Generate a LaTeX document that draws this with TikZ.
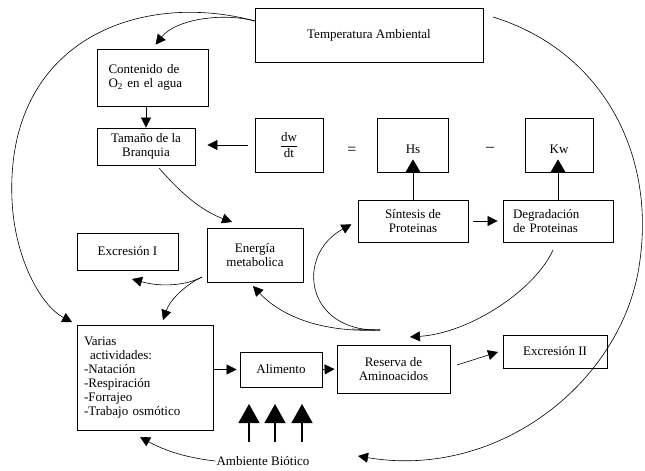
\documentclass[tikz,border=0pt]{standalone}
\usepackage{fontspec}
\setmainfont{Liberation Serif}
\usetikzlibrary{arrows.meta}
\begin{document}
\begin{tikzpicture}[x=1pt,y=-1pt,
  font=\fontsize{13}{14}\selectfont,
  box/.style={draw, line width=0.8pt, inner sep=0pt, align=center},
  arr/.style={-{Triangle[length=10pt,width=10pt]}, line width=0.6pt},
  midarr/.style={-{Triangle[length=13pt,width=15pt]}, line width=0.6pt},
  bigarr/.style={-{Triangle[length=19pt,width=21pt]}, line width=1.3pt}]
\useasboundingbox[fill=white] (0,0) rectangle (645,471);

% boxes
\node[box, minimum width=228pt, minimum height=54pt] (temp) at (369,35) {Temperatura Ambiental};
\node[box, minimum width=111pt, minimum height=57pt, text width=88pt, align=left] (cont) at (152.5,77.5) {Contenido de\\O\textsubscript{2} en el agua};
\node[box, minimum width=98pt, minimum height=37pt] (tam) at (146,146.5) {Tamaño de la\\Branquia};
\node[box, minimum width=68pt, minimum height=54pt] (dwdt) at (289,145) {$\displaystyle\frac{\mbox{dw}}{\mbox{dt}}$};
\node[font=\fontsize{16}{16}\selectfont] (eq) at (352,151) {=};
\node[font=\fontsize{16}{16}\selectfont] (minus) at (490,149) {–};
\node[box, minimum width=71pt, minimum height=54pt] (hs) at (413,145) {};
\node (hst) at (413,149) {Hs};
\node[box, minimum width=68pt, minimum height=54pt] (kw) at (559,145) {};
\node (kwt) at (559,149) {Kw};
\node[box, minimum width=110pt, minimum height=42pt] (sint) at (413,221) {Síntesis de\\Proteinas};
\node[box, minimum width=110pt, minimum height=42pt, text width=90pt, align=left] (degr) at (558,221) {Degradación\\de Proteinas};
\node[box, minimum width=96pt, minimum height=54pt] (energ) at (255,255) {Energía\\metabolica};
\node[box, minimum width=101pt, minimum height=37pt] (exc1) at (127.5,251.5) {Excresión I};
\node[box, minimum width=136pt, minimum height=105pt, text width=122pt, align=left] (var) at (145,377.5) {Varias\\\hspace{6pt}actividades:\\-Natación\\-Respiración\\-Forrajeo\\-Trabajo osmótico};
\node[box, minimum width=82pt, minimum height=35pt] (alim) at (281,369.5) {Alimento};
\node[box, minimum width=113pt, minimum height=48pt] (res) at (393.5,369) {Reserva de\\Aminoacidos};
\node[box, minimum width=104pt, minimum height=33pt] (exc2) at (555,351.5) {Excresión II};
\node[inner sep=1pt] (amb) at (263,461) {Ambiente Biótico};

% free ends
\coordinate (tempL) at (255,21);
\coordinate (tempR) at (493,17);
\coordinate (ambR) at (358,456);
\coordinate (tamS) at (159,168);
\coordinate (energT) at (232,222);
\coordinate (degrS) at (553,250);
\coordinate (resT) at (410,337);
\coordinate (loop) at (380,330);
\coordinate (energB) at (253,286);
\coordinate (eBL) at (202,277);
\coordinate (exc1B) at (132,279);
\coordinate (varT) at (163,320);
\coordinate (resE) at (457,365);
\coordinate (exc2W) at (498,352);
\coordinate (varB) at (140,437);

% connectors
\draw[arr, shorten >=5pt] (tempL) .. controls (220,12) and (175,20) .. (cont.north);
\draw[arr, shorten >=5pt] (tempL) .. controls (140,-10) and (5,40) .. (12,200)
      .. controls (14.5,257) and (40,305) .. (var.north west);
\draw[arr] (tempR) .. controls (600,50) and (655,150) .. (640,260)
      .. controls (625,380) and (500,480) .. (ambR);
\draw[arr] (cont.south -| tam.north) -- (tam.north);
\draw[arr, shorten <=7pt, shorten >=12pt] (dwdt.west) -- (dwdt.west -| tam.east);
\draw[arr] (tamS) .. controls (185,198) and (205,212) .. (energT);
\draw[midarr] (sint.north) -- ([yshift=13pt]hs.south);
\draw[midarr] (degr.north) -- ([yshift=13pt]degr.north |- kw.south);
\draw[arr, shorten <=5pt, shorten >=5pt] (sint.east) -- (degr.west);
\draw[arr] (degrS) .. controls (535,290) and (470,333) .. (resT);
\draw[arr, shorten >=7pt] (loop) .. controls (305,332) and (295,255) .. (sint.west);
\draw[line width=0.6pt] (loop) -- (352,329);
\draw[arr] (loop) .. controls (320,333) and (280,315) .. (energB);
\draw[arr] (eBL) .. controls (185,286) and (160,287) .. (exc1B);
\draw[arr] (eBL) .. controls (185,285) and (170,300) .. (varT);
\draw[arr, shorten >=3pt] (var.east |- alim.west) -- (alim.west);
\draw[arr, shorten >=2pt] (alim.east) -- (res.west);
\draw[arr] (resE) -- (exc2W);
\draw[arr] (amb.west) .. controls (180,457) and (160,448) .. (varB);
\foreach \x in {249,275,302} \draw[bigarr] (\x,442) -- (\x,404);
\end{tikzpicture}
\end{document}
